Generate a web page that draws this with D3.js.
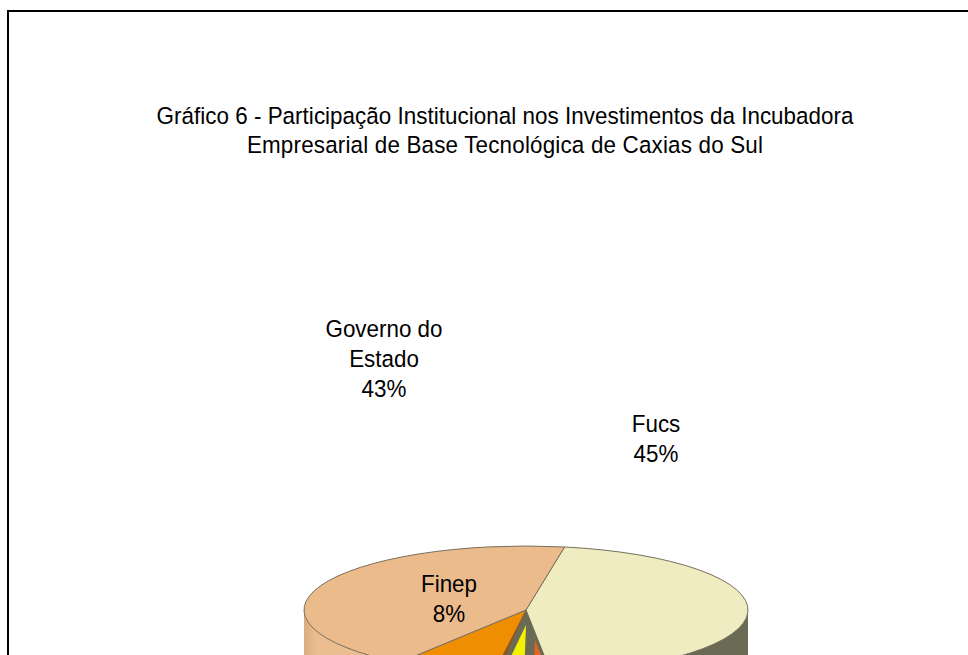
<!DOCTYPE html>
<html>
<head>
<meta charset="utf-8">
<script src="https://cdn.jsdelivr.net/npm/d3@7/dist/d3.min.js"></script>
<style>
html, body { margin: 0; padding: 0; background: #fff; overflow: hidden; }
text { font-family: "Liberation Sans", Arial, sans-serif; fill: #000; text-anchor: middle; }
</style>
</head>
<body>
<svg id="chart" width="968" height="655"></svg>
<script>
// values, clockwise from the Governo/Fucs cut
var categories = ["Fucs", "Outros 1", "Outros 2", "Finep", "Governo do Estado"];
var shares = [45.4, 2, 2, 7.5, 43.1];
var topColors = ["#eeecc0", "#e8641b", "#f2f200", "#ee8e00", "#ebbb8c"];
var titleLines = ["Gráfico 6 - Participação Institucional nos Investimentos da Incubadora",
                  "Empresarial de Base Tecnológica de Caxias do Sul"];

var svg = d3.select("#chart");
var defs = svg.append("defs");

svg.append("path")
  .attr("d", "M8,655V11H968")
  .attr("fill", "none")
  .attr("stroke", "#000")
  .attr("stroke-width", 2);

// the reference type is a bit narrow, so squeeze it sideways
var fontSize = 24.5, squeeze = 0.914;
function squeezed(x, y) {
  return "translate(" + x + "," + y + ") scale(" + squeeze + ",1)";
}

svg.selectAll("text.title")
  .data(titleLines)
  .enter().append("text")
    .attr("class", "title")
    .attr("transform", function(d, i) { return squeezed(505, 124 + i * 28.5); })
    .attr("font-size", fontSize)
    .attr("letter-spacing", function(d, i) { return i ? 0.2 : 0.04; })
    .text(function(d) { return d; });

var rx = 222, ry = 64, cx = 526, cy = 610, depth = 60;

var pie = d3.pie().sort(null)
  .startAngle(10 * Math.PI / 180)
  .endAngle(370 * Math.PI / 180)
  .value(function(d) { return d; });
var arcs = pie(shares);
var arc = d3.arc().innerRadius(0).outerRadius(rx);

// outer wall, light on the left, dark on the right
var wallGrad = defs.append("linearGradient").attr("id", "wallLeft");
wallGrad.append("stop").attr("offset", "0").attr("stop-color", "#d9ad82");
wallGrad.append("stop").attr("offset", "0.06").attr("stop-color", "#ecbd8e");
wallGrad.append("stop").attr("offset", "1").attr("stop-color", "#ebbb8c");

svg.append("rect").attr("x", cx - rx).attr("y", cy).attr("width", rx).attr("height", depth).attr("fill", "url(#wallLeft)");
svg.append("rect").attr("x", cx).attr("y", cy).attr("width", rx).attr("height", depth).attr("fill", "#6b6b55");

var pieTop = svg.append("g").attr("transform", "translate(" + cx + "," + cy + ") scale(1," + (ry / rx) + ")");

pieTop.selectAll("path.slice")
  .data(arcs.filter(function(d) { return d.index === 0 || d.index > 2; }))
  .enter().append("path")
    .attr("class", "slice")
    .attr("d", arc)
    .attr("fill", function(d) { return topColors[d.index]; })
    .attr("stroke", "#77705f")
    .attr("stroke-width", 1)
    .attr("vector-effect", "non-scaling-stroke");

// gap left by the two small pulled-out slices, shows the inner wall
pieTop.append("path")
  .attr("d", arc({ startAngle: arcs[1].startAngle, endAngle: arcs[2].endAngle }))
  .attr("fill", "#6b6b55");

// small slices sit lower than the rest of the top face
var pullDown = [0, 30 * rx / ry, 15 * rx / ry];
var pullSide = [0, 9, 0];
pieTop.selectAll("path.small")
  .data(arcs.filter(function(d) { return d.index === 1 || d.index === 2; }))
  .enter().append("path")
    .attr("class", "small")
    .attr("d", arc)
    .attr("transform", function(d) { return "translate(" + pullSide[d.index] + "," + pullDown[d.index] + ")"; })
    .attr("fill", function(d) { return topColors[d.index]; });

// dark cut between Finep and the small slices
pieTop.append("path")
  .attr("d", arc({ startAngle: arcs[3].startAngle - 0.012, endAngle: arcs[3].startAngle + 0.012 }))
  .attr("fill", "#8a5a20");

function label(lines, x, y) {
  svg.append("g").selectAll("text")
    .data(lines)
    .enter().append("text")
      .attr("transform", function(d, i) { return squeezed(x, y + i * 30); })
      .attr("font-size", fontSize)
      .text(function(d) { return d; });
}
label(["Governo do", "Estado", "43%"], 384, 337);
label(["Fucs", "45%"], 656, 432);
label(["Finep", "8%"], 449, 592);
</script>
</body>
</html>
